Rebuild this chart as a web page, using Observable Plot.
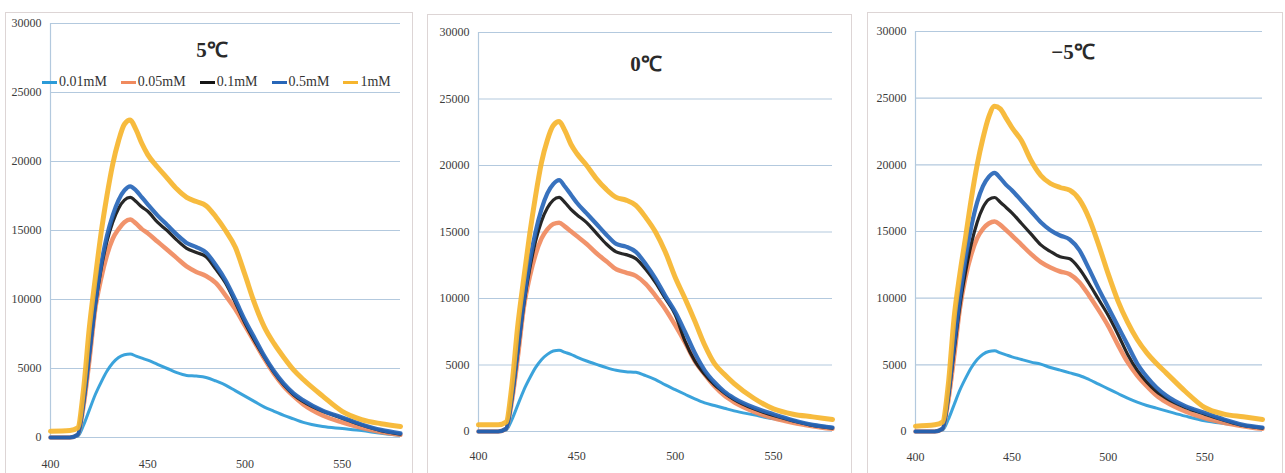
<!DOCTYPE html>
<html><head><meta charset="utf-8">
<script src="https://cdn.jsdelivr.net/npm/d3@7"></script>
<script src="https://cdn.jsdelivr.net/npm/@observablehq/plot@0.6"></script>
<style>
html,body{margin:0;padding:0;background:#fff;}
body{width:1285px;height:473px;overflow:hidden;position:relative;font-family:"Liberation Serif","DejaVu Serif",serif;}
.box{position:absolute;border:1px solid #ddd5d5;box-sizing:border-box;}
svg.chart{position:absolute;}
svg.chart, svg.chart text{font-family:"Liberation Serif","DejaVu Serif",serif !important;font-size:12px !important;}
svg.chart g[aria-label$="tick label"] text, svg.chart g[aria-label$="tick label"]{fill:#3c3c3c;}
.title{position:absolute;font-family:"Liberation Serif",serif;font-weight:bold;font-size:21px;color:#2a2a2a;transform:translateX(-50%);white-space:nowrap;}
.legend{position:absolute;display:flex;align-items:center;font-size:14px;color:#333;white-space:nowrap;}
.legend .item{display:flex;align-items:center;margin-right:14px;}
.legend .sw{display:inline-block;width:15px;height:3px;margin-right:2px;}
</style></head><body>
<script>
// ---- data ----
const wavelengths = [400,410,414,417,420,423,426,429,432,435,438,441,444,447,450,455,460,465,470,475,480,485,490,495,500,505,510,515,520,525,530,540,550,560,570,580];
const seriesNames = ["0.01mM","0.05mM","0.1mM","0.5mM","1mM"];
const seriesColors = ["#2a9bd8","#f08a5e","#151515","#2766b8","#f6b52e"];
const panelTitles = ["5℃","0℃","−5℃"];
const yTicks = [0,5000,10000,15000,20000,25000,30000];
const xTicks = [400,450,500,550];

// 5℃
const t5_001 = [0,0,100,900,2000,3100,4000,4800,5400,5800,6000,6050,5900,5750,5600,5300,5000,4700,4500,4450,4350,4100,3800,3400,3000,2600,2200,1900,1600,1350,1100,800,650,500,300,150];
const t5_005 = [0,0,200,2300,5600,9300,11500,13200,14400,15100,15600,15800,15500,15100,14800,14200,13600,13000,12400,12000,11700,11200,10300,9300,8100,6900,5700,4600,3700,3000,2400,1600,1100,700,400,200];
const t5_01  = [0,0,200,2500,6000,9500,12200,14200,15600,16600,17200,17400,17100,16700,16400,15600,15000,14300,13700,13400,13100,12200,11200,9800,8300,7000,5800,4700,3800,3100,2600,1900,1400,900,500,250];
const t5_05  = [0,0,200,2600,6100,9700,12500,14600,16100,17200,17900,18200,17900,17400,16900,16100,15400,14700,14100,13800,13400,12500,11400,10000,8500,7200,5900,4800,3900,3200,2700,1950,1450,950,550,300];
const t5_1   = [450,500,700,3500,8000,11500,14800,17500,19800,21500,22700,23000,22300,21300,20500,19600,18800,18000,17400,17100,16800,16000,15000,13800,11800,9700,8000,6800,5800,4900,4200,3000,1900,1300,1000,800];

// 0℃
const t0_001 = [0,0,100,900,2000,3100,4000,4800,5400,5800,6050,6100,5950,5800,5600,5300,5050,4800,4600,4500,4450,4200,3900,3500,3150,2800,2450,2150,1950,1750,1550,1250,950,750,500,300];
const t0_005 = [0,0,200,2300,5600,9300,11600,13300,14500,15200,15600,15700,15400,15050,14700,14100,13400,12800,12200,11950,11700,11100,10200,9200,8000,6700,5300,4300,3400,2700,2200,1500,1000,650,400,200];
const t0_01  = [0,0,200,2500,6000,9500,12200,14300,15800,16800,17400,17600,17200,16700,16300,15700,14900,14100,13500,13300,13000,12200,11200,10000,8800,6800,5300,4300,3500,2900,2400,1700,1200,800,450,250];
const t0_05  = [0,0,200,2600,6200,9800,12700,15000,16700,17900,18600,18900,18400,17800,17200,16400,15600,14800,14100,13900,13500,12600,11500,10200,9000,7500,5900,4600,3700,3000,2500,1800,1300,850,500,300];
const t0_1   = [500,500,700,3500,8000,11500,14800,17700,20200,21900,23000,23300,22600,21600,20900,20000,19000,18200,17600,17400,17000,16100,15000,13500,11600,10000,8300,6500,5100,4300,3600,2500,1700,1300,1100,900];

// −5℃
const tm5_001 = [0,0,100,900,2000,3100,4000,4800,5400,5800,6000,6050,5900,5750,5600,5400,5200,5050,4800,4600,4400,4200,3900,3550,3200,2850,2500,2200,1950,1750,1550,1150,800,600,450,280];
const tm5_005 = [0,0,200,2300,5600,9200,11600,13300,14500,15200,15600,15750,15500,15100,14700,14000,13300,12700,12300,12000,11800,11200,10200,9100,7900,6500,5200,4200,3400,2700,2200,1500,1000,650,400,200];
const tm5_01  = [0,0,200,2500,6000,9400,12000,14100,15700,16800,17400,17550,17200,16800,16400,15600,14800,14000,13500,13100,12950,12200,11100,9900,8700,7300,5800,4600,3700,3000,2500,1800,1300,850,450,250];
const tm5_05  = [0,0,200,2700,6500,10000,13000,15400,17200,18400,19100,19400,19000,18500,18100,17300,16500,15700,15100,14700,14400,13600,12200,10700,9300,7900,6500,5100,4100,3300,2700,1900,1400,900,500,300];
const tm5_1   = [400,500,700,3500,8500,11800,14600,17500,20000,22000,23600,24400,24200,23500,22800,21800,20300,19200,18600,18300,18100,17400,16000,14000,11800,9800,8200,6900,5900,5100,4400,3000,1800,1300,1100,900];

const panelSeries = [
  [t5_001, t5_005, t5_01, t5_05, t5_1],
  [t0_001, t0_005, t0_01, t0_05, t0_1],
  [tm5_001, tm5_005, tm5_01, tm5_05, tm5_1]
];

// ---- layout ----
const layouts = [
  {left:5,   top:12, width:408, height:461, ml:45, mr:13, mt:11, mb:36, xpad:22, title:{x:212,y:35}, legend:true},
  {left:427, top:14, width:425, height:459, ml:51, mr:20, mt:18, mb:42, xpad:20, title:{x:646,y:49}},
  {left:867, top:12, width:416, height:461, ml:48, mr:21, mt:19, mb:42, xpad:21, title:{x:1073,y:37}}
];
const strokeW = [3, 4.5, 3.2, 4.2, 5];
const gridColor = "#b3c9de";

layouts.forEach((L, p) => {
  const box = document.createElement("div");
  box.className = "box";
  Object.assign(box.style, {left: L.left+"px", top: L.top+"px", width: L.width+"px", height: (473-L.top+2)+"px"});
  document.body.appendChild(box);

  const marks = [
    Plot.ruleY(yTicks, {stroke: gridColor, strokeWidth: 1.2}),
    Plot.ruleX([400], {stroke: gridColor, strokeWidth: 1.2})
  ];
  seriesNames.forEach((name, i) => {
    const rows = wavelengths.map((w, k) => ({wl: w, v: panelSeries[p][i][k], s: name}));
    marks.push(Plot.line(rows, {x: "wl", y: "v", stroke: "s", strokeWidth: strokeW[i], curve: "monotone-x", strokeOpacity: 0.92}));
  });

  const chart = Plot.plot({
    width: L.width, height: L.height,
    marginLeft: L.ml, marginRight: L.mr, marginTop: L.mt, marginBottom: L.mb,
    style: {fontSize: "12px", color: "#3c3c3c", background: "transparent"},
    x: {domain: [400, 580], ticks: xTicks, tickSize: 0, tickPadding: L.xpad, label: null, line: false},
    y: {domain: [0, 30000], ticks: yTicks, tickSize: 0, tickPadding: 9, label: null, tickFormat: d => String(d)},
    color: {domain: seriesNames, range: seriesColors},
    marks
  });
  chart.classList.add("chart");
  chart.style.left = L.left + "px";
  chart.style.top = L.top + "px";
  document.body.appendChild(chart);

  const t = document.createElement("div");
  t.className = "title";
  t.textContent = panelTitles[p];
  t.style.left = L.title.x + "px";
  t.style.top = L.title.y + "px";
  document.body.appendChild(t);

  if (L.legend) {
    const lg = document.createElement("div");
    lg.className = "legend";
    lg.style.left = "42px";
    lg.style.top = "74px";
    seriesNames.forEach((n, i) => {
      const it = document.createElement("span");
      it.className = "item";
      const sw = document.createElement("span");
      sw.className = "sw";
      sw.style.background = seriesColors[i];
      it.appendChild(sw);
      it.appendChild(document.createTextNode(n));
      lg.appendChild(it);
    });
    document.body.appendChild(lg);
  }
});
</script>
</body></html>
